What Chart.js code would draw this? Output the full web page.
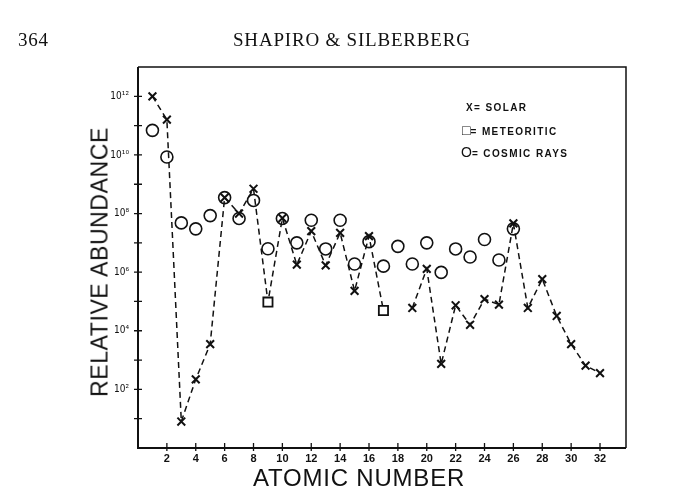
<!DOCTYPE html>
<html>
<head>
<meta charset="utf-8">
<script src="https://cdn.jsdelivr.net/npm/chart.js@4.4.1/dist/chart.umd.min.js"></script>
<style>
  html, body { margin: 0; padding: 0; background: #fff; }
  #wrap { position: relative; width: 692px; height: 496px; overflow: hidden; background: #fff; }
  #c { position: absolute; left: 0; top: 0; }
  .t { position: absolute; color: #111; white-space: nowrap; }
  #page { left: 18px; top: 29px; font: 19px "Liberation Serif", serif; letter-spacing: 0.7px; }
  #head { left: 233px; top: 29px; font: 19px "Liberation Serif", serif; letter-spacing: 0.8px; }
  #ytitle { left: 100px; top: 262px; font: 23px "Liberation Sans", sans-serif; letter-spacing: 0.6px;
            transform: translate(-50%, -50%) rotate(-90deg); }
  #xtitle { left: 359px; top: 478px; font: 24px "Liberation Sans", sans-serif; letter-spacing: 0.8px;
            transform: translate(-50%, -50%); }
  .lg { font: bold 10px "Liberation Sans", sans-serif; letter-spacing: 1.4px; transform: translateY(-50%); }
  .sym { font-weight: normal; font-size: 14px; letter-spacing: 0; }
</style>
</head>
<body>
<div id="wrap">
  <canvas id="c" width="692" height="496"></canvas>
  <div class="t" id="page">364</div>
  <div class="t" id="head">SHAPIRO &amp; SILBERBERG</div>
  <div class="t" id="ytitle">RELATIVE ABUNDANCE</div>
  <div class="t" id="xtitle">ATOMIC NUMBER</div>
  <div class="t lg" style="left:466px; top:107px;">X= SOLAR</div>
  <div class="t lg" style="left:462px; top:130px;"><span class="sym">□</span>= METEORITIC</div>
  <div class="t lg" style="left:461px; top:152px;"><span class="sym">O</span>= COSMIC RAYS</div>
</div>
<script>
// Atomic numbers
const atomicNumbers = [1,2,3,4,5,6,7,8,9,10,11,12,13,14,15,16,17,18,19,20,21,22,23,24,25,26,27,28,29,30,31,32];
// Solar abundances (X), null where not plotted
const solar = [1.0e12, 1.6e11, 8, 2.2e2, 3.5e3, 3.5e8, 1.0e8, 7e8, null, 7e7,
               1.8e6, 2.5e7, 1.7e6, 2.2e7, 2.3e5, 1.7e7, null, null, 6e4, 1.3e6,
               7.4e2, 7.4e4, 1.6e4, 1.2e5, 7.8e4, 4.6e7, 6e4, 5.8e5, 3.2e4, 3.5e3,
               6.5e2, 3.6e2];
// Meteoritic abundances (squares)
const meteoritic = [null, null, null, null, null, null, null, null, 9.5e4, null,
                    null, null, null, null, null, null, 4.9e4, null, null, null,
                    null, null, null, null, null, null, null, null, null, null,
                    null, null];
// Cosmic-ray abundances (circles), Z = 1..26
const cosmicRays = [6.9e10, 8.5e9, 4.8e7, 3.0e7, 8.5e7, 3.5e8, 6.8e7, 2.8e8, 6.3e6, 6.8e7,
                    1.0e7, 5.9e7, 6.2e6, 5.9e7, 1.9e6, 1.1e7, 1.6e6, 7.6e6, 1.9e6, 1.0e7,
                    9.8e5, 6.2e6, 3.3e6, 1.3e7, 2.6e6, 3.0e7];
// Tick values
const xTickValues = [2,4,6,8,10,12,14,16,18,20,22,24,26,28,30,32];
const yTickExponents = [0,1,2,3,4,5,6,7,8,9,10,11,12,13];
const yLabelExponents = [2,4,6,8,10,12];

const sup = {'0':'⁰','1':'¹','2':'²','3':'³','4':'⁴','5':'⁵','6':'⁶','7':'⁷','8':'⁸','9':'⁹'};
const supStr = n => String(n).split('').map(d => sup[d]).join('');

const pts = arr => atomicNumbers.map((z, i) => ({x: z, y: arr[i] === undefined ? null : arr[i]}));
const combined = atomicNumbers.map((z, i) => ({x: z, y: solar[i] != null ? solar[i] : (meteoritic[i] != null ? meteoritic[i] : null)}));

const INK = '#111';

const frameTicks = {
  id: 'frameTicks',
  afterDraw(chart) {
    const {ctx, chartArea: a, scales} = chart;
    ctx.save();
    ctx.strokeStyle = INK;
    ctx.lineWidth = 1.5;
    ctx.beginPath();
    ctx.moveTo(a.left, a.top); ctx.lineTo(a.right, a.top); ctx.lineTo(a.right, a.bottom);
    ctx.stroke();
    ctx.lineWidth = 2;
    ctx.beginPath();
    ctx.moveTo(a.left, a.top); ctx.lineTo(a.left, a.bottom); ctx.lineTo(a.right, a.bottom);
    ctx.stroke();
    ctx.lineWidth = 1.3;
    ctx.beginPath();
    yTickExponents.forEach(e => {
      if (e === 0 || e === 13) return;
      const y = scales.y.getPixelForValue(Math.pow(10, e));
      ctx.moveTo(a.left - 4, y); ctx.lineTo(a.left + 4, y);
    });
    xTickValues.forEach(v => {
      const x = scales.x.getPixelForValue(v);
      ctx.moveTo(x, a.bottom - 5); ctx.lineTo(x, a.bottom + 3);
    });
    ctx.stroke();
    ctx.restore();
  }
};

new Chart(document.getElementById('c'), {
  type: 'line',
  data: {
    datasets: [
      { label: 'line', data: combined, borderColor: INK, borderWidth: 1.5, borderDash: [6, 4],
        pointRadius: 0, spanGaps: false, fill: false, tension: 0, order: 4 },
      { label: 'SOLAR', data: pts(solar), showLine: false, pointStyle: 'crossRot', pointRadius: 5.5,
        pointBorderWidth: 2, pointBorderColor: INK, pointBackgroundColor: INK, order: 1 },
      { label: 'METEORITIC', data: pts(meteoritic), showLine: false, pointStyle: 'rect', pointRadius: 6.5,
        pointBorderWidth: 1.8, pointBorderColor: INK, pointBackgroundColor: '#fff', order: 2 },
      { label: 'COSMIC RAYS', data: cosmicRays.map((v, i) => ({x: atomicNumbers[i], y: v})), showLine: false,
        pointStyle: 'circle', pointRadius: 6, pointBorderWidth: 1.6, pointBorderColor: INK,
        pointBackgroundColor: 'rgba(0,0,0,0)', order: 3 }
    ]
  },
  options: {
    responsive: false,
    animation: false,
    events: [],
    layout: { padding: { left: 0, right: 66, top: 67, bottom: 0 } },
    plugins: { legend: { display: false }, tooltip: { enabled: false }, title: { display: false } },
    scales: {
      x: {
        type: 'linear', min: 0, max: 33.8,
        afterBuildTicks: s => { s.ticks = xTickValues.map(v => ({value: v})); },
        afterFit: s => { s.height = 48; },
        grid: { display: false },
        border: { display: false },
        ticks: { color: INK, padding: -4, maxRotation: 0, autoSkip: false,
                 font: { family: 'Liberation Sans', size: 11, weight: 'bold' },
                 callback: v => String(v) }
      },
      y: {
        type: 'logarithmic', min: 1, max: 1e13,
        afterBuildTicks: s => { s.ticks = yTickExponents.map(e => ({value: Math.pow(10, e)})); },
        afterFit: s => { s.width = 138; },
        grid: { display: false },
        border: { display: false },
        ticks: { color: INK, padding: 1, autoSkip: false,
                 font: { family: 'DejaVu Sans Condensed', size: 10 },
                 callback: v => {
                   const e = Math.round(Math.log10(v));
                   return yLabelExponents.includes(e) ? '10' + supStr(e) : '';
                 } }
      }
    }
  },
  plugins: [frameTicks]
});
</script>
</body>
</html>
